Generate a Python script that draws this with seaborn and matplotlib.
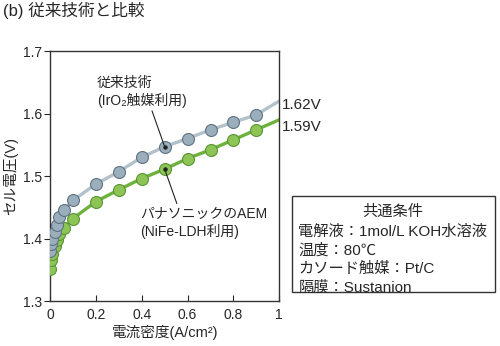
import matplotlib
matplotlib.use("Agg")
import matplotlib.pyplot as plt
from matplotlib.patches import Rectangle
import numpy as np
import pandas as pd
import seaborn as sns

# Current density (A/cm2) at each measured point
current = [0.0, 0.005, 0.01, 0.02, 0.03, 0.04, 0.06, 0.1,
           0.2, 0.3, 0.4, 0.5, 0.6, 0.7, 0.8, 0.9]
# Cell voltage (V): conventional IrO2 catalyst
v_conventional = [1.380, 1.392, 1.400, 1.410, 1.422, 1.434, 1.445, 1.461,
                  1.487, 1.507, 1.530, 1.547, 1.560, 1.574, 1.586, 1.598]
# Cell voltage (V): Panasonic AEM with NiFe-LDH
v_aem = [1.352, 1.366, 1.376, 1.388, 1.398, 1.408, 1.417, 1.432,
         1.459, 1.478, 1.496, 1.511, 1.528, 1.542, 1.558, 1.574]
# Voltage at 1 A/cm2 (end of each curve)
end_current = 1.0
end_conventional = 1.62
end_aem = 1.59

x_ticks = [0, 0.2, 0.4, 0.6, 0.8, 1.0]
x_tick_labels = ["0", "0.2", "0.4", "0.6", "0.8", "1"]
y_ticks = [1.3, 1.4, 1.5, 1.6, 1.7]
y_tick_labels = ["1.3", "1.4", "1.5", "1.6", "1.7"]

conditions_title = "共通条件"
conditions = ["電解液：1mol/L KOH水溶液",
              "温度：80℃",
              "カソード触媒：Pt/C",
              "隔膜：Sustanion"]

sns.set_style("ticks")
plt.rcParams["font.family"] = ["Liberation Sans", "Noto Sans CJK JP", "DejaVu Sans"]
plt.rcParams["axes.edgecolor"] = "#333333"

GRAY_LINE = "#b3c1cb"
GRAY_FACE = "#9aaebb"
GRAY_EDGE = "#5f7384"
GREEN_LINE = "#6db23e"
GREEN_FACE = "#8dc456"
GREEN_EDGE = "#5a9435"

fig = plt.figure(figsize=(5.0, 3.46), dpi=100)
ax = fig.add_axes([0.1, 0.13, 0.4586, 0.7226])

lines = pd.DataFrame({
    "current": current + [end_current] + current + [end_current],
    "voltage": v_aem + [end_aem] + v_conventional + [end_conventional],
    "series": ["aem"] * (len(current) + 1) + ["conv"] * (len(current) + 1),
})
points = pd.DataFrame({
    "current": current + current,
    "voltage": v_aem + v_conventional,
    "series": ["aem"] * len(current) + ["conv"] * len(current),
})

palette_line = {"aem": GREEN_LINE, "conv": GRAY_LINE}
sns.lineplot(data=lines, x="current", y="voltage", hue="series",
             palette=palette_line, linewidth=2.4, legend=False, ax=ax,
             zorder=2, sort=True)
for key, face, edge in [("aem", GREEN_FACE, GREEN_EDGE), ("conv", GRAY_FACE, GRAY_EDGE)]:
    sub = points[points["series"] == key]
    sns.scatterplot(data=sub, x="current", y="voltage", s=74,
                    color=face, edgecolor=edge, linewidth=0.8,
                    legend=False, ax=ax, zorder=3)

ax.set_xlim(0, 1)
ax.set_ylim(1.3, 1.7)
ax.set_xticks(x_ticks)
ax.set_xticklabels(x_tick_labels, fontsize=10)
ax.set_yticks(y_ticks)
ax.set_yticklabels(y_tick_labels, fontsize=10)
ax.tick_params(axis="x", direction="in", length=4, width=0.8, pad=5)
ax.tick_params(axis="y", direction="out", length=4, width=0.8, pad=2)
for sp in ax.spines.values():
    sp.set_visible(True)
    sp.set_linewidth(1.0)

ax.set_xlabel("電流密度(A/cm²)", fontsize=10.5, va="center")
ax.xaxis.set_label_coords(0.5, -0.126)
ax.set_ylabel("セル電圧(V)", fontsize=10.5, va="center")
ax.yaxis.set_label_coords(-0.17, 0.5)

# Callouts for each curve
i_mid = current.index(0.5)
ax.annotate("従来技術\n(IrO₂触媒利用)", xy=(0.5, v_conventional[i_mid]),
            xytext=(0.205, 1.635), fontsize=10, ha="left", va="center",
            linespacing=1.25,
            arrowprops=dict(arrowstyle="-", color="#222222", lw=0.8,
                            shrinkA=0, shrinkB=0, relpos=(0.6, 0.0)))
ax.annotate("パナソニックのAEM\n(NiFe-LDH利用)", xy=(0.5, v_aem[i_mid]),
            xytext=(0.392, 1.425), fontsize=10, ha="left", va="center",
            linespacing=1.25,
            arrowprops=dict(arrowstyle="-", color="#222222", lw=0.8,
                            shrinkA=0, shrinkB=0, relpos=(0.3, 1.0)))
ax.plot([0.5, 0.5], [v_conventional[i_mid], v_aem[i_mid]], "o",
        color="#222222", markersize=2.2, zorder=4)

# End-of-curve values
ax.annotate(f"{end_conventional:.2f}V", xy=(end_current, end_conventional),
            xytext=(2, -3), textcoords="offset points", fontsize=11,
            ha="left", va="center", annotation_clip=False)
ax.annotate(f"{end_aem:.2f}V", xy=(end_current, end_aem),
            xytext=(2, -5.5), textcoords="offset points", fontsize=11,
            ha="left", va="center", annotation_clip=False)

# Title
fig.text(0.006, 0.971, "(b) 従来技術と比較", fontsize=12, ha="left", va="center")

# Common conditions box
fig.patches.append(Rectangle((0.5834, 0.157), 0.4066, 0.2766,
                             transform=fig.transFigure, fill=False,
                             edgecolor="#333333", linewidth=1.0))
fig.text(0.786, 0.3882, conditions_title, fontsize=11, ha="center", va="center")
for yy, line in zip([0.3303, 0.2754, 0.2217, 0.1697], conditions):
    fig.text(0.5966, yy, line, fontsize=11, ha="left", va="center")

fig.savefig("out.png", dpi=100)
